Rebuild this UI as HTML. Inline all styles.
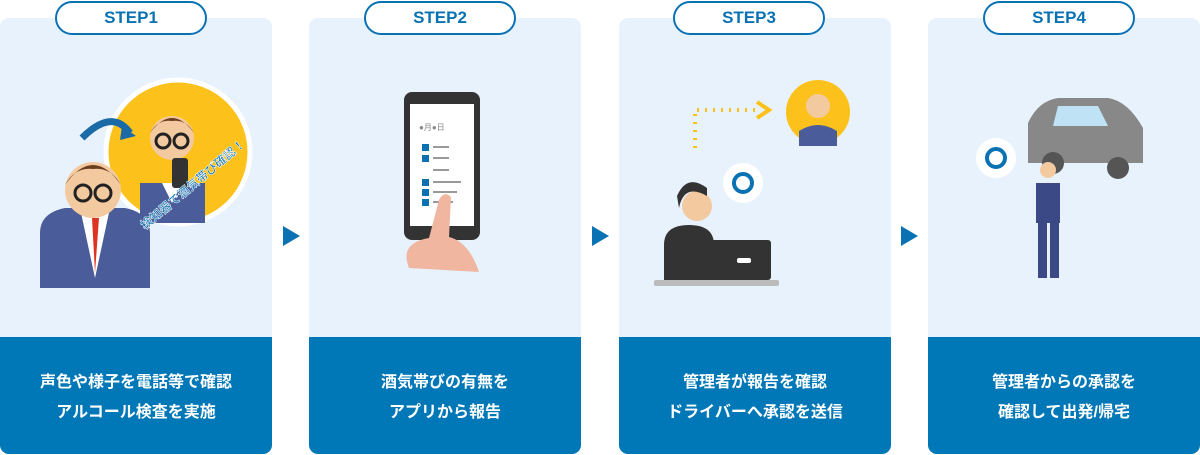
<!DOCTYPE html>
<html><head><meta charset="utf-8"><style>
*{margin:0;padding:0;box-sizing:border-box}
body{width:1200px;height:455px;background:#fff;position:relative;overflow:hidden;font-family:"Liberation Sans","Noto Sans CJK JP",sans-serif}
.p{position:absolute;top:18px;width:272px;height:436px;background:#e8f2fd;border-radius:9px;overflow:hidden}
.b{position:absolute;left:0;top:319px;width:100%;height:117px;background:#0077b6;color:#fff;font-weight:bold;font-size:16px;line-height:30px;text-align:center;padding-top:31px}
.pill{position:absolute;top:1px;width:152px;height:34px;border:2px solid #0a72b3;border-radius:17px;background:#fff;color:#0a72b3;font-weight:bold;font-size:17px;text-align:center;line-height:30px}
.ar{position:absolute;top:226px;width:0;height:0;border-left:17px solid #0a72b3;border-top:10px solid transparent;border-bottom:10px solid transparent}
svg{position:absolute;left:0;top:0}
</style></head><body>
<div class="p" style="left:0"><div class="b">声色や様子を電話等で確認<br>アルコール検査を実施</div>
<svg width="272" height="320">
<circle cx="178" cy="134" r="72" fill="#fcc21b" stroke="#fff" stroke-width="5"/>
<path d="M140 165 h65 v40 h-65z" fill="#4a5d9a"/><path d="M162 165 l10 20 l10-20z" fill="#fff"/>
<circle cx="172" cy="120" r="22" fill="#f3c9a0"/><path d="M150 115 q22-30 44 0 q-8-14-22-12 q-14-2-22 12z" fill="#6b3e1e"/>
<circle cx="163" cy="123" r="7" fill="none" stroke="#222" stroke-width="3"/><circle cx="181" cy="123" r="7" fill="none" stroke="#222" stroke-width="3"/>
<rect x="172" y="140" width="16" height="30" rx="3" fill="#333"/>
<path d="M40 270 v-55 q0-20 25-25 h60 q25 5 25 25 v55z" fill="#4a5d9a"/><path d="M80 190 l15 70 l15-70z" fill="#fff"/><path d="M92 200 l3 55 l4-55z" fill="#d32"/>
<circle cx="93" cy="172" r="28" fill="#f3c9a0"/><path d="M65 167 q28-40 56 0 q-10-18-28-16 q-18-2-28 16z" fill="#6b3e1e"/>
<circle cx="83" cy="175" r="8" fill="none" stroke="#222" stroke-width="3"/><circle cx="103" cy="175" r="8" fill="none" stroke="#222" stroke-width="3"/>
<path d="M82 120 q30-30 48 -5" fill="none" stroke="#1a6aa8" stroke-width="7"/><path d="M122 108 l14 10 l-16 4z" fill="#1a6aa8"/>
<text x="145" y="212" font-size="12" font-weight="bold" fill="#0a72b3" stroke="#fff" stroke-width="0.5" transform="rotate(-40 145 212)">検知器で酒気帯び確認！</text>
</svg></div>
<div class="ar" style="left:283px"></div>
<div class="p" style="left:309px"><div class="b">酒気帯びの有無を<br>アプリから報告</div>
<svg width="272" height="320">
<rect x="95" y="74" width="76" height="148" rx="8" fill="#333"/><rect x="101" y="86" width="64" height="122" fill="#fff"/>
<g fill="#0a72b3"><rect x="113" y="126" width="7" height="7"/><rect x="113" y="137" width="7" height="7"/><rect x="113" y="161" width="7" height="7"/><rect x="113" y="171" width="7" height="7"/><rect x="113" y="181" width="7" height="7"/></g>
<g fill="#999"><rect x="124" y="128" width="16" height="2"/><rect x="124" y="139" width="16" height="2"/><rect x="124" y="151" width="16" height="2"/><rect x="124" y="163" width="28" height="2"/><rect x="124" y="173" width="24" height="2"/><rect x="124" y="183" width="20" height="2"/></g>
<text x="110" y="112" font-size="8" fill="#888">●月●日</text>
<path d="M100 250 q-10-25 20-30 l10-38 q5-10 12-3 l-2 40 q20 5 30 35z" fill="#f0b6a0"/>
</svg></div>
<div class="ar" style="left:592px"></div>
<div class="p" style="left:619px"><div class="b">管理者が報告を確認<br>ドライバーへ承認を送信</div>
<svg width="272" height="320">
<circle cx="199" cy="94" r="32" fill="#fcc21b"/><path d="M180 128 v-15 q19-12 38 0 v15z" fill="#4a5d9a"/><circle cx="199" cy="88" r="12" fill="#f3c9a0"/>
<path d="M76 130 v-38 h62" fill="none" stroke="#fcc21b" stroke-width="4" stroke-dasharray="2 6"/><path d="M138 84 l12 8 l-12 8" fill="none" stroke="#fcc21b" stroke-width="4"/>
<circle cx="124" cy="165" r="20" fill="#fff"/><circle cx="124" cy="165" r="9" fill="none" stroke="#0a72b3" stroke-width="4"/>
<path d="M45 262 v-35 q0-20 25-20 q25 0 25 20 v35z" fill="#333"/><circle cx="78" cy="188" r="15" fill="#f3c9a0"/><path d="M60 190 q5-25 28-12 v-8 q-20-15-30 8z" fill="#333"/>
<rect x="92" y="222" width="60" height="40" rx="3" fill="#333"/><rect x="118" y="240" width="14" height="5" rx="2" fill="#fff"/>
<rect x="35" y="262" width="125" height="6" rx="2" fill="#bbb"/>
</svg></div>
<div class="ar" style="left:901px"></div>
<div class="p" style="left:928px"><div class="b">管理者からの承認を<br>確認して出発/帰宅</div>
<svg width="272" height="320">
<path d="M100 105 q10-22 30-25 h50 q20 3 35 30 v35 h-115z" fill="#888"/><path d="M130 88 h40 l10 20 h-55z" fill="#bfe3f5"/>
<circle cx="125" cy="145" r="11" fill="#555"/><circle cx="190" cy="150" r="11" fill="#555"/>
<circle cx="68" cy="140" r="20" fill="#fff"/><circle cx="68" cy="140" r="9" fill="none" stroke="#0a72b3" stroke-width="4"/>
<circle cx="120" cy="152" r="8" fill="#f3c9a0"/><path d="M108 165 h24 v40 h-24z" fill="#3b4a86"/><path d="M110 205 h9 v55 h-9z M122 205 h9 v55 h-9z" fill="#3b4a86"/>
</svg></div>
<div class="pill" style="left:55px">STEP1</div>
<div class="pill" style="left:364px">STEP2</div>
<div class="pill" style="left:673px">STEP3</div>
<div class="pill" style="left:983px">STEP4</div>
</body></html>
